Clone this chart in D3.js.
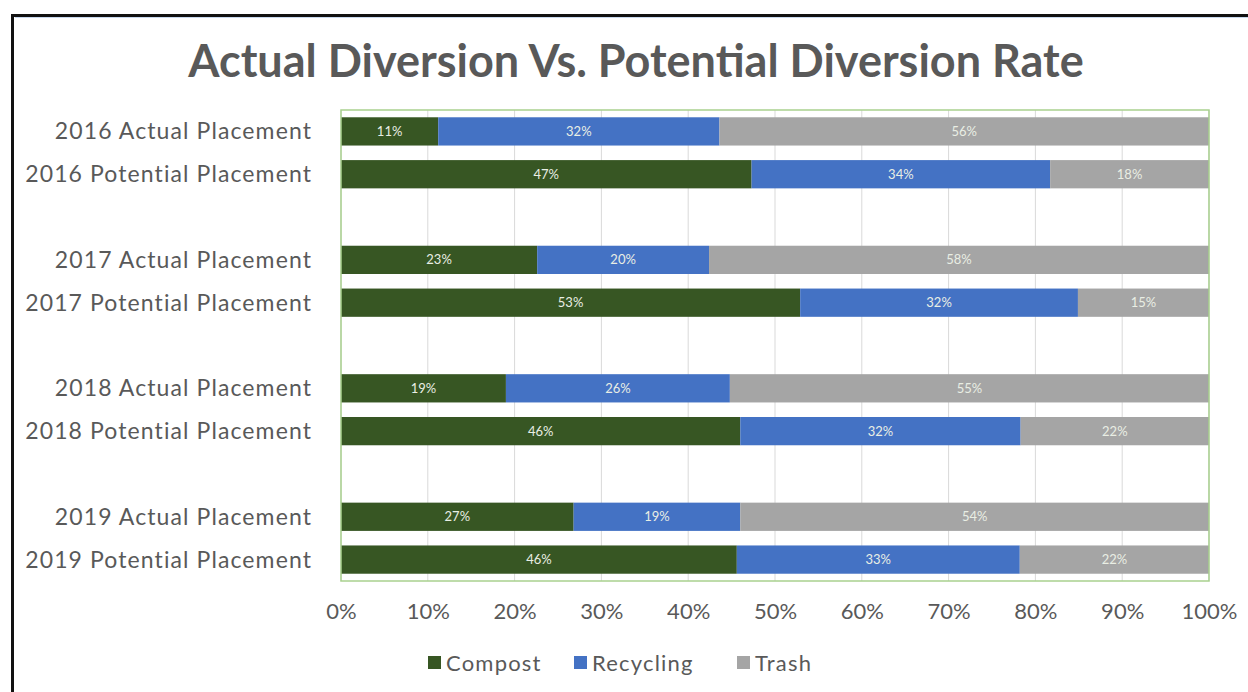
<!DOCTYPE html>
<html>
<head>
<meta charset="utf-8">
<script src="https://cdn.jsdelivr.net/npm/d3@7"></script>
<style>
  body { margin: 0; background: #fff; }
  svg { display: block; font-family: Lato, 'Open Sans', sans-serif; }
</style>
</head>
<body>
<svg width="1248" height="692"></svg>
<script>
const categories = [
  '2016 Actual Placement', '2016 Potential Placement',
  '2017 Actual Placement', '2017 Potential Placement',
  '2018 Actual Placement', '2018 Potential Placement',
  '2019 Actual Placement', '2019 Potential Placement'
]
const seriesNames = ['Compost', 'Recycling', 'Trash']
const compost = [11.2, 47.3, 22.6, 52.9, 19.0, 46.0, 26.8, 45.6]
const recycling = [32.4, 34.4, 19.8, 32.0, 25.8, 32.3, 19.2, 32.6]
const trash = [56.4, 18.3, 57.6, 15.1, 55.2, 21.7, 54.0, 21.8]
const ticks = [0, 10, 20, 30, 40, 50, 60, 70, 80, 90, 100]

const width = 1248
const height = 692
const margin = { top: 110, right: 39, bottom: 111, left: 341 }
const colors = ['#375623', '#4472C4', '#A5A5A5']

const svg = d3.select('svg')

// frame around the chart
svg.append('rect')
  .attr('x', 12.5).attr('y', 15.5)
  .attr('width', width).attr('height', height)
  .attr('fill', 'none')
  .attr('stroke', '#111').attr('stroke-width', 3)
svg.append('line')
  .attr('x1', 15).attr('x2', width).attr('y1', 17.5).attr('y2', 17.5)
  .attr('stroke', '#c9d9ee').attr('stroke-width', 1)

// title
svg.append('text')
  .attr('x', 636).attr('y', 77)
  .attr('text-anchor', 'middle')
  .attr('fill', '#595959')
  .attr('font-size', 45)
  .attr('font-weight', 'bold')
  .text('Actual Diversion Vs. Potential Diversion Rate')

// 11 slots: two bars per year plus an empty slot between years
const slot = i => i + Math.floor(i / 2)

const xScale = d3.scaleLinear()
  .domain([0, 100])
  .range([margin.left, width - margin.right])

const yScale = d3.scaleBand()
  .domain(d3.range(11))
  .range([margin.top, height - margin.bottom])
  .paddingInner(0.34)
  .paddingOuter(0.17)

// gridlines
svg.append('g')
  .selectAll('line')
  .data(ticks)
  .enter().append('line')
  .attr('x1', d => xScale(d)).attr('x2', d => xScale(d))
  .attr('y1', margin.top).attr('y2', height - margin.bottom)
  .attr('stroke', '#d9d9d9').attr('stroke-width', 1)

// stacked bars
const rows = categories.map((c, i) => ({
  name: c,
  Compost: compost[i],
  Recycling: recycling[i],
  Trash: trash[i],
  idx: i
}))
const stacked = d3.stack().keys(seriesNames)(rows)

const layers = svg.selectAll('g.layer')
  .data(stacked)
  .enter().append('g')
  .attr('class', 'layer')
  .attr('fill', (d, i) => colors[i])

layers.selectAll('rect')
  .data(d => d)
  .enter().append('rect')
  .attr('x', d => xScale(d[0]))
  .attr('width', d => xScale(d[1]) - xScale(d[0]))
  .attr('y', d => yScale(slot(d.data.idx)))
  .attr('height', yScale.bandwidth())

// data labels
layers.selectAll('text')
  .data(d => d)
  .enter().append('text')
  .attr('x', d => (xScale(d[0]) + xScale(d[1])) / 2)
  .attr('y', d => yScale(slot(d.data.idx)) + yScale.bandwidth() / 2)
  .attr('dy', '0.35em')
  .attr('text-anchor', 'middle')
  .attr('font-size', 13)
  .attr('fill', '#e9eee4')
  .text(d => Math.round(d[1] - d[0]) + '%')

// plot area border
svg.append('rect')
  .attr('x', margin.left).attr('y', margin.top)
  .attr('width', width - margin.left - margin.right)
  .attr('height', height - margin.top - margin.bottom)
  .attr('fill', 'none')
  .attr('stroke', '#a9d18e').attr('stroke-width', 1.5)

// category labels
svg.append('g')
  .selectAll('text')
  .data(categories)
  .enter().append('text')
  .attr('x', 312)
  .attr('y', (d, i) => yScale(slot(i)) + yScale.bandwidth() / 2)
  .attr('dy', '0.35em')
  .attr('text-anchor', 'end')
  .attr('fill', '#595959')
  .attr('font-size', 23)
  .attr('letter-spacing', 1.1)
  .text(d => d)

// x axis labels
const xAxis = d3.axisBottom(xScale)
  .tickValues(ticks)
  .tickFormat(d => d + '%')
  .tickSize(0)
  .tickPadding(22)

const axisG = svg.append('g')
  .attr('transform', `translate(0, ${height - margin.bottom})`)
  .call(xAxis)
axisG.select('.domain').remove()
axisG.selectAll('text')
  .attr('fill', '#595959')
  .attr('font-size', 22)
  .attr('font-family', 'Lato, sans-serif')

// legend
const legendX = [428, 574, 737]
const legend = svg.append('g')
  .selectAll('g')
  .data(seriesNames)
  .enter().append('g')
  .attr('transform', (d, i) => `translate(${legendX[i]}, 663)`)

legend.append('rect')
  .attr('x', 0).attr('y', -7)
  .attr('width', 13).attr('height', 13)
  .attr('fill', (d, i) => colors[i])

legend.append('text')
  .attr('x', 18)
  .attr('dy', '0.35em')
  .attr('fill', '#595959')
  .attr('font-size', 22)
  .attr('letter-spacing', 1.2)
  .text(d => d)
</script>
</body>
</html>
